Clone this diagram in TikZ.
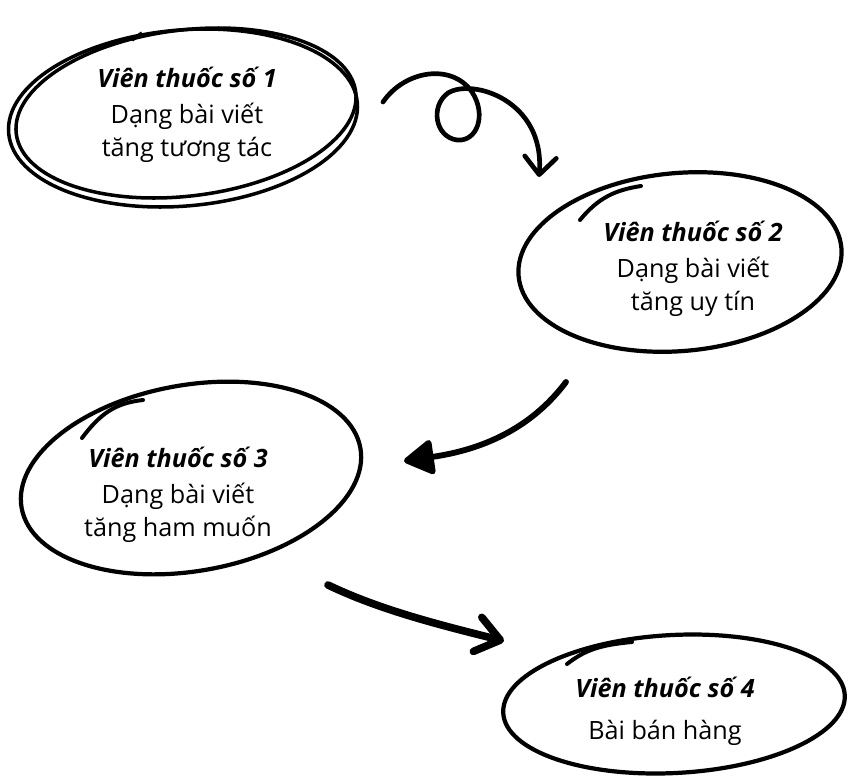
\documentclass[tikz,border=0pt]{standalone}
\usepackage{fontspec}
\setmainfont{Open Sans}
\usetikzlibrary{arrows.meta}

\tikzset{
  pill/.style={align=center, inner sep=0pt, font=\fontsize{21.5}{28}\selectfont},
  ring/.style={line width=3.6pt},
  thinring/.style={line width=3pt},
  tick/.style={line width=3.4pt, line cap=round},
  brush/.style={line width=4pt, line cap=round, line join=round}
}

\begin{document}
\begin{tikzpicture}[x=0.03cm, y=-0.03cm]
\useasboundingbox (0, 0) rectangle (854, 777);

\node [pill] (pill1) at (187, 115) {\textbf{\textit{Viên thuốc số 1}}\\[3pt] Dạng bài viết\\ tăng tương tác};
\node [pill] (pill2) at (693, 269) {\textbf{\textit{Viên thuốc số 2}}\\[3pt] Dạng bài viết\\ tăng uy tín};
\node [pill] (pill3) at (178, 495) {\textbf{\textit{Viên thuốc số 3}}\\[3pt] Dạng bài viết\\ tăng ham muốn};
\node [pill] (pill4) at (665, 711) {\textbf{\textit{Viên thuốc số 4}}\\[8pt] Bài bán hàng};

\draw [thinring] (183, 118) ellipse [x radius=175, y radius=88, rotate=5];
\draw [thinring] (186, 113) ellipse [x radius=171, y radius=83, rotate=7];
\draw [thinring] (132, 40) -- (142, 33);

\draw [ring] (680, 262) ellipse [x radius=162, y radius=89, rotate=5];
\draw [tick] (580, 220) .. controls (598, 198) and (615, 190) .. (641, 186);

\draw [ring] (191, 478) ellipse [x radius=172, y radius=93, rotate=10];
\draw [tick] (82, 438) .. controls (100, 414) and (115, 403) .. (143, 400);

\draw [ring] (674, 704) ellipse [x radius=171, y radius=69, rotate=3];
\draw [tick] (567, 664) .. controls (585, 650) and (600, 645) .. (632, 642);

\coordinate (a1s) at (383, 102);
\coordinate (a1e) at (539, 177);
\coordinate (a2s) at (566, 382);
\coordinate (a2e) at (404, 461);
\coordinate (a3s) at (328, 585);
\coordinate (a3e) at (504, 641);

\draw [brush, -{Straight Barb[length=15pt, width=27pt, round]}] (a1s) .. controls (405, 70) and (452, 63) .. (472, 92) .. controls (487, 115) and (477, 142) .. (457, 140) .. controls (435, 137) and (430, 106) .. (448, 93) .. controls (472, 78) and (545, 100) .. (a1e);
\draw [brush, line width=5pt, -{Triangle[length=28pt, width=32pt, round]}] (a2s) .. controls (530, 430) and (480, 450) .. (a2e);
\draw [brush, line width=6.5pt, -{Straight Barb[length=20pt, width=30pt, round]}] (a3s) .. controls (380, 610) and (440, 625) .. (a3e);
\end{tikzpicture}
\end{document}
